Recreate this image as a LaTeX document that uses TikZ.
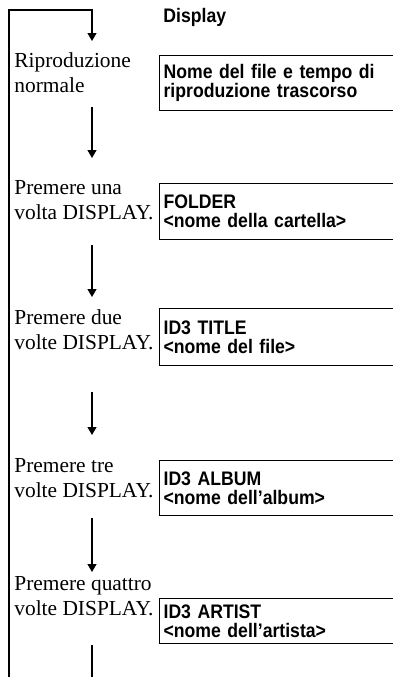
\documentclass[tikz,border=0pt]{standalone}
\usepackage{fontspec}
\setmainfont{Liberation Serif}
\setsansfont{Liberation Sans}
\newfontfamily\dispfont[FakeStretch=0.9]{Liberation Sans}
\usetikzlibrary{arrows.meta,positioning}
\tikzset{
  steplabel/.style={
    anchor=base west, align=left, inner sep=0pt,
    font=\fontsize{10.7}{12.3}\selectfont
  },
  dispbox/.style={
    rectangle, draw=black, line width=0.6pt, anchor=north west,
    inner xsep=2pt, inner ysep=0pt, text width=116.5pt, align=left,
    minimum height=#1, font=\dispfont\bfseries\fontsize{9.8}{9.6}\selectfont
  },
  dispbox/.default=28pt,
  flowarrow/.style={-{Triangle[length=4pt,width=4.5pt]}, line width=0.6pt},
  flowline/.style={line width=0.6pt}
}
\begin{document}
\begin{tikzpicture}[x=0.5pt,y=-0.5pt]
\useasboundingbox (0,0) rectangle (393,677);
\clip (0,0) rectangle (393,677);

% header
\node[anchor=west, inner sep=0pt, font=\dispfont\bfseries\fontsize{9.8}{10}\selectfont] (head) at (163,17) {Display};

% steps on the left (placed at the last baseline)
\node[steplabel] (t0) at (14,92) {Riproduzione\\normale};
\node[steplabel] (t1) at (14,219) {Premere una\\volta DISPLAY.};
\node[steplabel] (t2) at (14,349) {Premere due\\volte DISPLAY.};
\node[steplabel] (t3) at (14,497) {Premere tre\\volte DISPLAY.};
\node[steplabel] (t4) at (14,615) {Premere quattro\\volte DISPLAY.};

% display contents
\node[dispbox=27.5pt] (b0) at (159,55) {Nome del file e tempo di\\riproduzione trascorso};
\node[dispbox=28pt] (b1) at (159,183) {FOLDER\\<nome della cartella>};
\node[dispbox=28.5pt] (b2) at (159,308) {ID3 TITLE\\<nome del file>};
\node[dispbox=27.5pt] (b3) at (159,460) {ID3 ALBUM\\<nome dell’album>};
\node[dispbox=22.5pt] (b4) at (159,598) {ID3 ARTIST\\<nome dell’artista>};

% arrow ends
\coordinate (ret) at (9,680);
\coordinate (back) at (92,10);
\coordinate (e0) at (92,41);
\coordinate (s1) at (92,107);
\coordinate (e1) at (92,158);
\coordinate (s2) at (92,245);
\coordinate (e2) at (92,297);
\coordinate (s3) at (92,392);
\coordinate (e3) at (92,435);
\coordinate (s4) at (92,518);
\coordinate (e4) at (92,572);
\coordinate (s5) at (92,645);
\coordinate (e5) at (92,680);

\draw[flowarrow] (ret) |- (back) -- (e0);
\draw[flowarrow] (s1) -- (e1);
\draw[flowarrow] (s2) -- (e2);
\draw[flowarrow] (s3) -- (e3);
\draw[flowarrow] (s4) -- (e4);
\draw[flowline] (s5) -- (e5);
\end{tikzpicture}
\end{document}
